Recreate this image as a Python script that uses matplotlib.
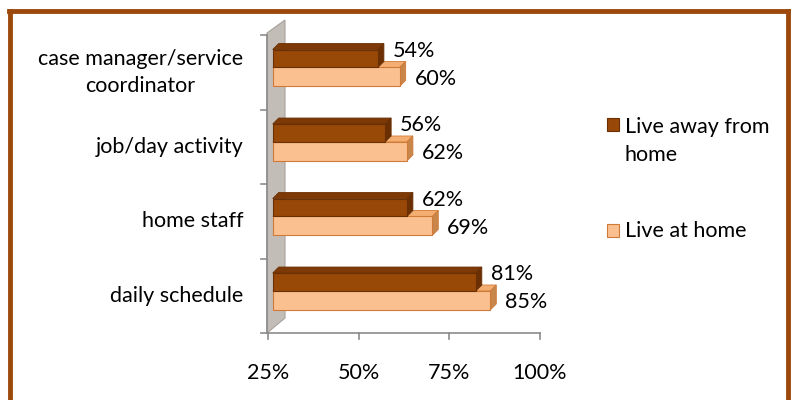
import matplotlib
matplotlib.use("Agg")
import matplotlib.pyplot as plt
from matplotlib.patches import Polygon, Rectangle
from matplotlib.lines import Line2D

categories = ["daily schedule", "home staff", "job/day activity",
              "case manager/service\ncoordinator"]
away = [81, 62, 56, 54]
home = [85, 69, 62, 60]
series_names = ["Live away from\nhome", "Live at home"]
xticks = [25, 50, 75, 100]
xticklabels = ["25%", "50%", "75%", "100%"]

W, H = 791, 400
plt.rcParams['font.family'] = ['Lato', 'DejaVu Sans']
FS = 15.5

fig = plt.figure(figsize=(W / 100, H / 100), dpi=100)
L, R, B, T = 268, 540, 333, 35
ax = fig.add_axes([L / W, 1 - B / H, (R - L) / W, (B - T) / H])
ax.set_xlim(25, 100)
ax.set_ylim(-0.5, 3.5)
ax.axis('off')

sx = 75 / (R - L)      # data per px (x)
sy = 4 / (B - T)       # data per px (y)

def px2data(px, py):
    return 25 + (px - L) * sx, -0.5 + (B - py) * sy

# wall (3D left side)
wall = [px2data(267, 333), px2data(267, 33), px2data(285, 20), px2data(285, 318)]
ax.add_patch(Polygon(wall, closed=True, facecolor='#C3BDB8', edgecolor='#A8A29D',
                     lw=0.8, clip_on=False, zorder=1))

# axes lines
gray = '#8C8C8C'
x0, _ = px2data(267, 0)
ax.add_line(Line2D([x0, x0], [-0.5, 3.5], color=gray, lw=1.2, clip_on=False, zorder=2))
ax.add_line(Line2D([x0, 100], [-0.5, -0.5], color=gray, lw=1.2, clip_on=False, zorder=2))
for i in range(5):
    y = -0.5 + i
    ax.add_line(Line2D([x0 - 6 * sx, x0], [y, y], color=gray, lw=1.2, clip_on=False, zorder=2))
for xt in xticks:
    ax.add_line(Line2D([xt, xt], [-0.5, -0.5 - 6 * sy], color=gray, lw=1.2, clip_on=False, zorder=2))
for xt, lab in zip(xticks, xticklabels):
    ax.text(xt, -0.5 - 40 * sy, lab, ha='center', va='center', fontsize=FS, clip_on=False)

for i, c in enumerate(categories):
    ax.text(x0 - 24 * sx, i, c, ha='right', va='center', multialignment='center',
            fontsize=FS, clip_on=False, linespacing=1.45)

shift = 1.3
dx, dy = 6 * sx, 6 * sy

def bar3d(y0, y1, v, front, top, side, edge, z):
    xl, xr = 25 + shift, v + shift
    ax.add_patch(Polygon([(xl, y1), (xl + dx, y1 + dy), (xr + dx, y1 + dy), (xr, y1)],
                         closed=True, facecolor=top, edgecolor=edge, lw=0.6, clip_on=False, zorder=z))
    ax.add_patch(Polygon([(xr, y0), (xr, y1), (xr + dx, y1 + dy), (xr + dx, y0 + dy)],
                         closed=True, facecolor=side, edgecolor=edge, lw=0.6, clip_on=False, zorder=z))
    ax.add_patch(Rectangle((xl, y0), xr - xl, y1 - y0, facecolor=front, edgecolor=edge,
                           lw=0.8, clip_on=False, zorder=z + 0.1))

for i in range(len(categories)):
    # light bar (lower)
    bar3d(i - 0.19, i + 0.064, home[i], '#FAC090', '#F4AE72', '#C8864A', '#D07A38', 3)
    # dark bar (upper)
    bar3d(i + 0.064, i + 0.305, away[i], '#984807', '#7E3A06', '#6A3004', '#6A3004', 4)
    ax.annotate(f"{away[i]}%", (away[i] + shift, i + 0.29), xytext=(15, 0),
                textcoords='offset pixels', ha='left', va='center', fontsize=FS,
                annotation_clip=False, zorder=6)
    ax.annotate(f"{home[i]}%", (home[i] + shift, i - 0.09), xytext=(15, 0),
                textcoords='offset pixels', ha='left', va='center', fontsize=FS,
                annotation_clip=False, zorder=6)

# legend
fig.add_artist(Rectangle((607 / W, 1 - 131 / H), 12 / W, 13 / H, transform=fig.transFigure,
                         facecolor='#984807', edgecolor='#6A3004', lw=0.8))
fig.add_artist(Rectangle((607 / W, 1 - 237 / H), 12 / W, 13 / H, transform=fig.transFigure,
                         facecolor='#FAC090', edgecolor='#D07A38', lw=0.8))
fig.text(625 / W, 1 - 141 / H, series_names[0], ha='left', va='center', fontsize=FS,
         linespacing=1.45)
fig.text(625 / W, 1 - 231 / H, series_names[1], ha='left', va='center', fontsize=FS)

# border
border = '#9C4A0C'
fig.add_artist(Line2D([10 / W, 10 / W], [0, 1 - 10.5 / H], color=border, lw=3.5, transform=fig.transFigure))
fig.add_artist(Line2D([788 / W, 788 / W], [0, 1 - 10.5 / H], color=border, lw=3.5, transform=fig.transFigure))
fig.add_artist(Line2D([8.5 / W, 789.5 / W], [1 - 10.5 / H, 1 - 10.5 / H], color=border, lw=3.5,
                      transform=fig.transFigure))

fig.savefig("out.png", dpi=100)
